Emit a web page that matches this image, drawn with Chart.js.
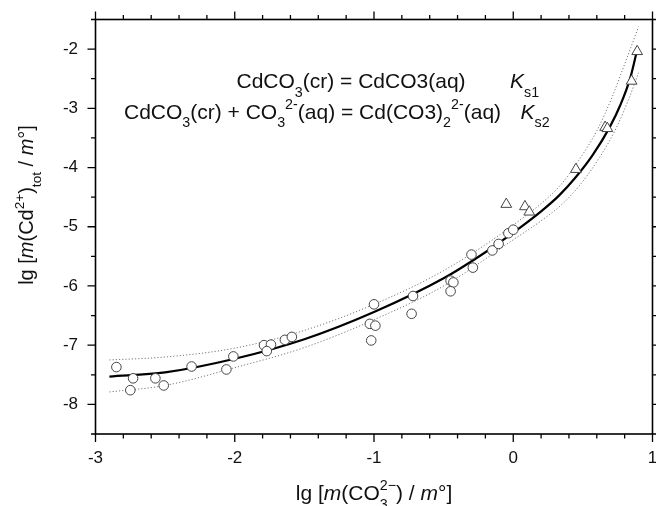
<!DOCTYPE html>
<html>
<head>
<meta charset="utf-8">
<script src="https://cdn.jsdelivr.net/npm/chart.js@4.4.0/dist/chart.umd.min.js"></script>
<style>
  html, body { margin: 0; padding: 0; background: #fff; overflow: hidden; }
  #wrap { width: 656px; height: 506px; }
  canvas { display: block; }
</style>
</head>
<body>
<div id="wrap"><canvas id="myChart" width="656" height="506"></canvas></div>
<script>
'use strict';

// measured points (open circles)
let circleX = [-2.85, -2.73, -2.75, -2.57, -2.51, -2.31, -2.06, -2.01, -1.79, -1.74, -1.77, -1.64, -1.59,
               -1.00, -1.03, -0.99, -1.02, -0.72, -0.73, -0.45, -0.43, -0.45, -0.30, -0.29, -0.15, -0.105, -0.035, 0.0];
let circleY = [-7.37, -7.56, -7.76, -7.56, -7.68, -7.36, -7.41, -7.19, -7.00, -6.99, -7.10, -6.91, -6.86,
               -6.31, -6.64, -6.67, -6.92, -6.17, -6.47, -5.91, -5.94, -6.09, -5.47, -5.69, -5.40, -5.29, -5.11, -5.05];

// measured points (open triangles)
let triangleX = [0.89, 0.85, 0.66, 0.676, 0.45, -0.05, 0.084, 0.115];
let triangleY = [-2.04, -2.54, -3.32, -3.34, -4.03, -4.62, -4.66, -4.75];

// fitted curve
let fitX = [-2.9, -2.5, -2.0, -1.5, -1.0, -0.5, -0.2, 0.0, 0.2, 0.33, 0.45, 0.57, 0.69, 0.77, 0.84, 0.885];
let fitY = [-7.53, -7.46, -7.23, -6.90, -6.44, -5.87, -5.43, -5.10, -4.74, -4.47, -4.16, -3.79, -3.33, -2.94, -2.49, -2.06];

// confidence band (dotted)
let upperX = [-2.9, -2.5, -2.0, -1.5, -1.0, -0.5, 0.0, 0.33, 0.47, 0.60, 0.71, 0.81, 0.90];
let upperY = [-7.25, -7.20, -7.05, -6.75, -6.31, -5.74, -4.97, -4.32, -3.88, -3.38, -2.81, -2.19, -1.62];
let lowerX = [-2.9, -2.5, -2.0, -1.5, -1.0, -0.5, 0.0, 0.2, 0.35, 0.47, 0.62, 0.74, 0.83, 0.90];
let lowerY = [-7.79, -7.68, -7.38, -7.04, -6.57, -6.00, -5.22, -4.90, -4.62, -4.32, -3.83, -3.33, -2.84, -2.40];

// tick labels
let xTickLabels = [-3, -2, -1, 0, 1];
let yTickLabels = [-8, -7, -6, -5, -4, -3, -2];

let fontFamily = '"Liberation Sans", Arial, Helvetica, sans-serif';

function toPoints(xs, ys) {
    let pts = [];
    for (let i = 0; i < xs.length; i++) {
        pts.push({ x: xs[i], y: ys[i] });
    }
    return pts;
}

// draws a line of text made of parts: [text, kind]
// kind: 'n' normal, 'i' italic, 'sub', 'sup', 'subS' (sub, next sup stacks on it)
function drawRich(ctx, parts, x, y, size) {
    let small = size * 0.68;
    let stackStart = null;
    let stackWidth = 0;
    for (let i = 0; i < parts.length; i++) {
        let text = parts[i][0];
        let kind = parts[i][1];
        let dy = 0;
        let fs = size;
        let style = '';
        if (kind === 'i') style = 'italic ';
        if (kind === 'sub' || kind === 'subS') { fs = small; dy = size * 0.42; }
        if (kind === 'sup') { fs = small; dy = -size * 0.46; }
        ctx.font = style + fs + 'px ' + fontFamily;
        let w = ctx.measureText(text).width;
        if (kind === 'sup' && stackStart !== null) {
            ctx.fillText(text, stackStart, y + dy);
            x = stackStart + Math.max(w, stackWidth);
            stackStart = null;
            continue;
        }
        ctx.fillText(text, x, y + dy);
        if (kind === 'subS') {
            stackStart = x;
            stackWidth = w;
        }
        x += w;
    }
}

function measureRich(ctx, parts, size) {
    let small = size * 0.68;
    let total = 0;
    let stackWidth = null;
    for (let i = 0; i < parts.length; i++) {
        let kind = parts[i][1];
        let fs = (kind === 'n' || kind === 'i') ? size : small;
        ctx.font = (kind === 'i' ? 'italic ' : '') + fs + 'px ' + fontFamily;
        let w = ctx.measureText(parts[i][0]).width;
        if (kind === 'subS') { stackWidth = w; continue; }
        if (kind === 'sup' && stackWidth !== null) { total += Math.max(w, stackWidth); stackWidth = null; continue; }
        total += w;
    }
    return total;
}

let frameAndLabels = {
    id: 'frameAndLabels',
    afterDraw(chart) {
        let ctx = chart.ctx;
        let area = chart.chartArea;
        let xs = chart.scales.x;
        let ys = chart.scales.y;
        ctx.save();
        ctx.strokeStyle = '#000';
        ctx.lineWidth = 1.6;
        ctx.strokeRect(area.left, area.top, area.right - area.left, area.bottom - area.top);

        // major and minor ticks, outward on all four sides
        ctx.lineWidth = 1.3;
        ctx.beginPath();
        for (let k = 0; k <= 20; k++) {
            let v = xs.min + k * 0.2;
            let px = xs.getPixelForValue(v);
            let len = (k % 5 === 0) ? 8 : 4.5;
            ctx.moveTo(px, area.bottom);
            ctx.lineTo(px, area.bottom + len);
            ctx.moveTo(px, area.top);
            ctx.lineTo(px, area.top - len);
        }
        for (let k = 0; k <= 14; k++) {
            let v = ys.min + k * 0.5;
            let py = ys.getPixelForValue(v);
            let len = (k % 2 === 1) ? 8 : 4.5;
            ctx.moveTo(area.left, py);
            ctx.lineTo(area.left - len, py);
            ctx.moveTo(area.right, py);
            ctx.lineTo(area.right + len, py);
        }
        ctx.stroke();

        ctx.fillStyle = '#111';
        ctx.textBaseline = 'alphabetic';
        ctx.textAlign = 'left';

        // reactions
        drawRich(ctx, [['CdCO', 'n'], ['3', 'sub'], ['(cr) = CdCO3(aq)', 'n']], 236.5, 88, 21);
        drawRich(ctx, [['K', 'i'], ['s1', 'sub']], 510, 88, 21);
        drawRich(ctx, [['CdCO', 'n'], ['3', 'sub'], ['(cr) + CO', 'n'], ['3', 'sub'], ['2-', 'sup'],
                       ['(aq) = Cd(CO3)', 'n'], ['2', 'sub'], ['2-', 'sup'], ['(aq)', 'n']], 124, 118.5, 21);
        drawRich(ctx, [['K', 'i'], ['s2', 'sub']], 520.5, 118.5, 21);

        // x axis title
        let xParts = [['lg [', 'n'], ['m', 'i'], ['(CO', 'n'], ['3', 'subS'], ['2\u2212', 'sup'],
                      [') / ', 'n'], ['m', 'i'], ['\u00b0]', 'n']];
        let xTitleW = measureRich(ctx, xParts, 21);
        drawRich(ctx, xParts, 374 - xTitleW / 2, 500, 21);

        // y axis title
        let yParts = [['lg [', 'n'], ['m', 'i'], ['(Cd', 'n'], ['2+', 'sup'], [')', 'n'], ['tot', 'sub'],
                      [' / ', 'n'], ['m', 'i'], ['\u00b0]', 'n']];
        let yTitleW = measureRich(ctx, yParts, 20);
        ctx.translate(33, 205);
        ctx.rotate(-Math.PI / 2);
        drawRich(ctx, yParts, -yTitleW / 2, 0, 20);
        ctx.restore();
    }
};

let ctx = document.getElementById('myChart').getContext('2d');
let chart = new Chart(ctx, {
    type: 'scatter',
    data: {
        datasets: [{
            label: 'circles',
            data: toPoints(circleX, circleY),
            pointStyle: 'circle',
            pointRadius: 4.8,
            pointBorderWidth: 1,
            pointBorderColor: '#444',
            pointBackgroundColor: '#fff'
        },
        {
            label: 'triangles',
            data: toPoints(triangleX, triangleY),
            pointStyle: 'triangle',
            pointRadius: 6.2,
            pointBorderWidth: 1,
            pointBorderColor: '#444',
            pointBackgroundColor: '#fff'
        },
        {
            label: 'fit',
            data: toPoints(fitX, fitY),
            showLine: true,
            borderColor: '#000',
            borderWidth: 2.2,
            pointRadius: 0,
            cubicInterpolationMode: 'monotone'
        },
        {
            label: 'upper',
            data: toPoints(upperX, upperY),
            showLine: true,
            borderColor: '#777',
            borderWidth: 1,
            borderDash: [1.2, 2],
            pointRadius: 0,
            cubicInterpolationMode: 'monotone'
        },
        {
            label: 'lower',
            data: toPoints(lowerX, lowerY),
            showLine: true,
            borderColor: '#777',
            borderWidth: 1,
            borderDash: [1.2, 2],
            pointRadius: 0,
            cubicInterpolationMode: 'monotone'
        }]
    },
    options: {
        responsive: false,
        animation: false,
        devicePixelRatio: 1,
        layout: { autoPadding: false, padding: { left: 0, right: 3.5, top: 19.5, bottom: 0 } },
        plugins: { legend: { display: false }, tooltip: { enabled: false } },
        scales: {
            x: {
                type: 'linear',
                min: -3,
                max: 1,
                grid: { display: false },
                border: { display: false },
                afterBuildTicks(scale) {
                    scale.ticks = xTickLabels.map(v => ({ value: v }));
                },
                afterFit(scale) {
                    scale.height = 72;
                    scale.paddingLeft = 0;
                    scale.paddingRight = 0;
                },
                ticks: {
                    padding: 6,
                    color: '#111',
                    font: { family: fontFamily, size: 17 },
                    callback: v => String(v)
                }
            },
            y: {
                type: 'linear',
                min: -8.5,
                max: -1.5,
                grid: { display: false },
                border: { display: false },
                afterBuildTicks(scale) {
                    scale.ticks = yTickLabels.map(v => ({ value: v }));
                },
                afterFit(scale) {
                    scale.width = 95.5;
                    scale.paddingTop = 0;
                    scale.paddingBottom = 0;
                },
                ticks: {
                    padding: 9.5,
                    color: '#111',
                    font: { family: fontFamily, size: 17 },
                    callback: v => String(v)
                }
            }
        }
    },
    plugins: [frameAndLabels]
});
</script>
</body>
</html>
